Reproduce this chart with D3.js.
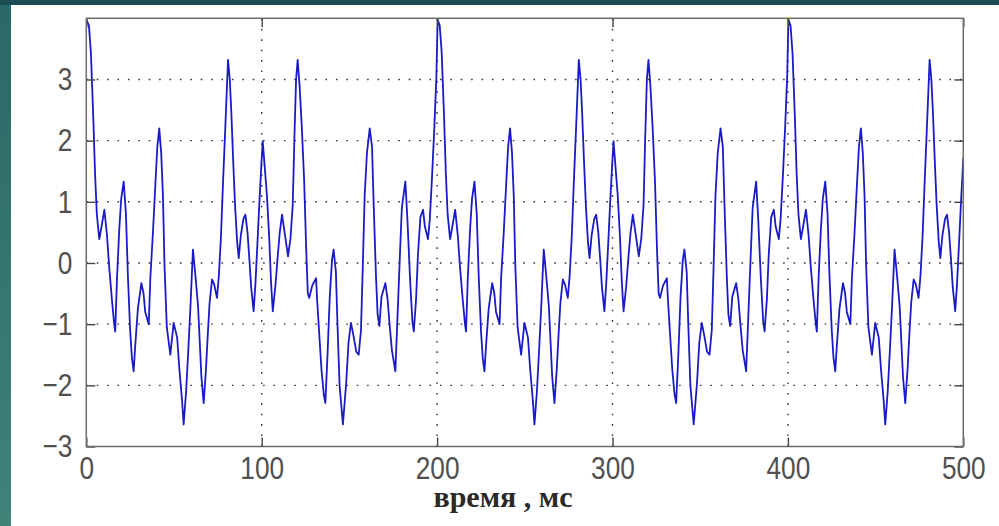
<!DOCTYPE html>
<html>
<head>
<meta charset="utf-8">
<script src="https://cdn.jsdelivr.net/npm/d3@7"></script>
<style>
  html, body { margin: 0; padding: 0; background: #ffffff; }
  svg { display: block; }
</style>
</head>
<body>
<div id="chart"></div>
<script>
// ---- data (time in ms, amplitude) ----
const timeA = [0,1.5,2.6,3.9,5.0,6.0,7.4,8.7,10.3,11.8,
  13.1,14.6,15.9,16.5,17.5,18.8,19.9,21.3,22.6,23.7,
  25.0,26.0,27.0,27.9,29.4,31.4,32.6,33.6,35.6,36.5,
  38.0,39.4,40.5,41.6,42.7,43.7,44.6,45.9,47.9,49.8,
  51.8,53.1,54.6,55.5,56.9,58.1,59.4,60.8,62.2,63.7,
  64.7,65.6,66.9,68.2,69.2,70.3,71.7,72.9,74.5,75.6,
  76.8,78.0,79.3,80.8,81.8,82.7,83.7,84.8,86.0,86.9,
  88.1,89.6,90.7,91.9,93.0,94.0,95.4,96.4,97.7,98.7,
  99.8,100.6,101.5,103.0,104.3,105.3,106.3,107.8,109.1,110.3,
  111.6,113.3,115.0,116.4,117.7,118.6,119.6,120.5,121.6,122.9,
  124.2,125.4,126.3,127.1,128.8,131.0,131.6,133.0,134.1,135.4,
  136.3,137.6,138.8,140.1,141.0,142.3,143.2,144.4,146.3,148.2,
  149.5,150.9,152.4,153.9,155.3,156.6,157.6,158.7,160.0,161.6,
  162.9,163.9,165.2,166.1,167.1,168.3,170.5,171.8,172.9,174.2,
  176.2,177.4,178.9,179.9,181.9,183.1,184.6,185.9,186.7,188.0,
  189.1,190.5,192.0,193.0,194.8,195.8,197.1,198.4,199.6,200.3];
const ampA = [3.98,3.88,3.45,2.45,1.45,0.8,0.39,0.6,0.87,0.45,
  -0.08,-0.6,-1.0,-1.12,-0.25,0.55,1.05,1.33,0.8,-0.2,
  -1.1,-1.55,-1.77,-1.35,-0.75,-0.33,-0.49,-0.8,-1.0,-0.25,
  0.5,1.3,1.9,2.2,1.8,1.1,-0.05,-1.05,-1.5,-0.98,
  -1.22,-1.75,-2.25,-2.64,-2.1,-1.45,-0.7,0.22,-0.2,-0.7,
  -1.3,-1.85,-2.29,-1.75,-1.2,-0.65,-0.27,-0.35,-0.57,-0.2,
  0.45,1.35,2.25,3.32,3.0,2.45,1.7,0.95,0.35,0.08,
  0.45,0.72,0.79,0.5,0.05,-0.4,-0.79,-0.35,0.4,1.0,
  1.6,1.99,1.65,1.1,0.4,-0.3,-0.79,-0.38,0.1,0.5,
  0.79,0.45,0.11,0.4,0.95,2.0,3.0,3.32,2.9,2.2,
  1.35,0.2,-0.5,-0.57,-0.37,-0.25,-0.6,-1.25,-1.75,-2.15,
  -2.29,-1.45,-0.55,0.05,0.22,-0.15,-1.0,-2.0,-2.64,-1.95,
  -1.3,-0.98,-1.2,-1.45,-1.5,-1.1,-0.1,1.1,1.8,2.2,
  1.9,0.9,-0.25,-0.85,-1.03,-0.55,-0.33,-0.6,-1.0,-1.42,
  -1.77,-0.9,0.2,0.9,1.33,0.7,-0.27,-0.95,-1.12,-0.6,
  0.15,0.75,0.87,0.6,0.39,0.7,1.4,2.2,3.05,3.98];

const timeB = [201.5,202.6,203.9,205.0,206.0,207.4,208.7,210.3,211.8,
  213.1,214.6,215.9,216.5,217.5,218.8,219.9,221.3,222.6,223.7,
  225.0,226.0,227.0,227.9,229.4,231.4,232.6,233.6,235.6,236.5,
  238.0,239.4,240.5,241.6,242.7,243.7,244.6,245.9,247.9,249.8,
  251.8,253.1,254.6,255.5,256.9,258.1,259.4,260.8,262.2,263.7,
  264.7,265.6,266.9,268.2,269.2,270.3,271.7,272.9,274.5,275.6,
  276.8,278.0,279.3,280.8,281.8,282.7,283.7,284.8,286.0,286.9,
  288.1,289.6,290.7,291.9,293.0,294.0,295.4,296.4,297.7,298.7,
  299.8,300.6,301.5,303.0,304.3,305.3,306.3,307.8,309.1,310.3,
  311.6,313.3,315.0,316.4,317.7,318.6,319.6,320.5,321.6,322.9,
  324.2,325.4,326.3,327.1,328.8,331.0,331.6,333.0,334.1,335.4,
  336.3,337.6,338.8,340.1,341.0,342.3,343.2,344.4,346.3,348.2,
  349.5,350.9,352.4,353.9,355.3,356.6,357.6,358.7,360.0,361.6,
  362.9,363.9,365.2,366.1,367.1,368.3,370.5,371.8,372.9,374.2,
  376.2,377.4,378.9,379.9,381.9,383.1,384.6,385.9,386.7,388.0,
  389.1,390.5,392.0,393.0,394.8,395.8,397.1,398.4,399.6,400.3];
const ampB = [3.88,3.45,2.45,1.45,0.8,0.39,0.6,0.87,0.45,
  -0.08,-0.6,-1.0,-1.12,-0.25,0.55,1.05,1.33,0.8,-0.2,
  -1.1,-1.55,-1.77,-1.35,-0.75,-0.33,-0.49,-0.8,-1.0,-0.25,
  0.5,1.3,1.9,2.2,1.8,1.1,-0.05,-1.05,-1.5,-0.98,
  -1.22,-1.75,-2.25,-2.64,-2.1,-1.45,-0.7,0.22,-0.2,-0.7,
  -1.3,-1.85,-2.29,-1.75,-1.2,-0.65,-0.27,-0.35,-0.57,-0.2,
  0.45,1.35,2.25,3.32,3.0,2.45,1.7,0.95,0.35,0.08,
  0.45,0.72,0.79,0.5,0.05,-0.4,-0.79,-0.35,0.4,1.0,
  1.6,1.99,1.65,1.1,0.4,-0.3,-0.79,-0.38,0.1,0.5,
  0.79,0.45,0.11,0.4,0.95,2.0,3.0,3.32,2.9,2.2,
  1.35,0.2,-0.5,-0.57,-0.37,-0.25,-0.6,-1.25,-1.75,-2.15,
  -2.29,-1.45,-0.55,0.05,0.22,-0.15,-1.0,-2.0,-2.64,-1.95,
  -1.3,-0.98,-1.2,-1.45,-1.5,-1.1,-0.1,1.1,1.8,2.2,
  1.9,0.9,-0.25,-0.85,-1.03,-0.55,-0.33,-0.6,-1.0,-1.42,
  -1.77,-0.9,0.2,0.9,1.33,0.7,-0.27,-0.95,-1.12,-0.6,
  0.15,0.75,0.87,0.6,0.39,0.7,1.4,2.2,3.05,3.98];

const timeC = [401.5,402.6,403.9,405.0,406.0,407.4,408.7,410.3,411.8,
  413.1,414.6,415.9,416.5,417.5,418.8,419.9,421.3,422.6,423.7,
  425.0,426.0,427.0,427.9,429.4,431.4,432.6,433.6,435.6,436.5,
  438.0,439.4,440.5,441.6,442.7,443.7,444.6,445.9,447.9,449.8,
  451.8,453.1,454.6,455.5,456.9,458.1,459.4,460.8,462.2,463.7,
  464.7,465.6,466.9,468.2,469.2,470.3,471.7,472.9,474.5,475.6,
  476.8,478.0,479.3,480.8,481.8,482.7,483.7,484.8,486.0,486.9,
  488.1,489.6,490.7,491.9,493.0,494.0,495.4,496.4,497.7,498.7,
  499.8,500];
const ampC = [3.88,3.45,2.45,1.45,0.8,0.39,0.6,0.87,0.45,
  -0.08,-0.6,-1.0,-1.12,-0.25,0.55,1.05,1.33,0.8,-0.2,
  -1.1,-1.55,-1.77,-1.35,-0.75,-0.33,-0.49,-0.8,-1.0,-0.25,
  0.5,1.3,1.9,2.2,1.8,1.1,-0.05,-1.05,-1.5,-0.98,
  -1.22,-1.75,-2.25,-2.64,-2.1,-1.45,-0.7,0.22,-0.2,-0.7,
  -1.3,-1.85,-2.29,-1.75,-1.2,-0.65,-0.27,-0.35,-0.57,-0.2,
  0.45,1.35,2.25,3.32,3.0,2.45,1.7,0.95,0.35,0.08,
  0.45,0.72,0.79,0.5,0.05,-0.4,-0.79,-0.35,0.4,1.0,
  1.6,1.72];

const xTicks = [0, 100, 200, 300, 400, 500];
const yTicks = [-3, -2, -1, 0, 1, 2, 3];
const xGrid = [100, 200, 300, 400];
const yGrid = [-2, -1, 0, 1, 2, 3];
const xLabel = "время , мс";

// ---- build ----
const W = 999, H = 526;
const svg = d3.select("#chart").append("svg").attr("width", W).attr("height", H);

const defs = svg.append("defs");
const grad = defs.append("linearGradient").attr("id", "tealGrad")
  .attr("x1", 0).attr("y1", 0).attr("x2", 0).attr("y2", 1);
grad.append("stop").attr("offset", "0%").attr("stop-color", "#2b6766");
grad.append("stop").attr("offset", "100%").attr("stop-color", "#3f8379");

svg.append("rect").attr("x", 0).attr("y", 0).attr("width", W).attr("height", H).attr("fill", "url(#tealGrad)");
svg.append("rect").attr("x", 0).attr("y", 0).attr("width", W).attr("height", 5).attr("fill", "#1e4c54");
svg.append("rect").attr("x", 11).attr("y", 5).attr("width", W - 11).attr("height", H - 5).attr("fill", "#ffffff");

const x = d3.scaleLinear().domain([0, 500]).range([86.3, 963.3]);
const y = d3.scaleLinear().domain([-3, 4]).range([446.5, 18.3]);
const [x0, x1] = x.range();
const [yb, yt] = y.range();

defs.append("clipPath").attr("id", "plotClip").append("rect")
  .attr("x", x0).attr("y", yt).attr("width", x1 - x0).attr("height", yb - yt);

// grid
const grid = svg.append("g").attr("stroke", "#333").attr("stroke-width", 1.4)
  .attr("stroke-dasharray", "1.6,8.8");
grid.selectAll("line.gx").data(xGrid).join("line").attr("class", "gx")
  .attr("x1", d => x(d)).attr("x2", d => x(d)).attr("y1", yb).attr("y2", yt);
grid.selectAll("line.gy").data(yGrid).join("line").attr("class", "gy")
  .attr("y1", d => y(d)).attr("y2", d => y(d)).attr("x1", x0).attr("x2", x1);

// data series
const series = timeA.concat(timeB, timeC).map((t, i) => ({ t, v: ampA.concat(ampB, ampC)[i] }));
const line = d3.line().x(d => x(d.t)).y(d => y(d.v));
svg.append("path").datum(series)
  .attr("clip-path", "url(#plotClip)")
  .attr("fill", "none").attr("stroke", "#1a1ac8").attr("stroke-width", 1.8)
  .attr("stroke-linejoin", "round")
  .attr("d", line);

// axes
const tickLen = 9;
const fontFam = "'Liberation Sans', Arial, sans-serif";
function styleAxis(g) {
  g.select(".domain").remove();
  g.selectAll(".tick line").attr("stroke", "#444").attr("stroke-width", 1.4);
}

const gBottom = svg.append("g").attr("transform", `translate(0,${yb})`)
  .call(d3.axisBottom(x).tickValues(xTicks).tickSizeInner(-tickLen).tickSizeOuter(0).tickPadding(10).tickFormat(d3.format("d")));
styleAxis(gBottom);
gBottom.selectAll(".tick text")
  .attr("font-family", fontFam).attr("font-size", 32).attr("fill", "#505050")
  .attr("transform", "scale(0.82,1)");

const gTop = svg.append("g").attr("transform", `translate(0,${yt})`)
  .call(d3.axisTop(x).tickValues(xTicks).tickSizeInner(-tickLen).tickSizeOuter(0).tickFormat(""));
styleAxis(gTop);

const gLeft = svg.append("g").attr("transform", `translate(${x0},0)`)
  .call(d3.axisLeft(y).tickValues(yTicks).tickSizeInner(-tickLen).tickSizeOuter(0).tickPadding(0)
    .tickFormat(d => d < 0 ? "\u2212" + Math.abs(d) : String(d)));
styleAxis(gLeft);
gLeft.selectAll(".tick text")
  .attr("x", 0)
  .attr("font-family", fontFam).attr("font-size", 32).attr("fill", "#505050")
  .attr("transform", "translate(-14,0) scale(0.82,1)");

const gRight = svg.append("g").attr("transform", `translate(${x1},0)`)
  .call(d3.axisRight(y).tickValues(yTicks).tickSizeInner(-tickLen).tickSizeOuter(0).tickFormat(""));
styleAxis(gRight);

// frame
svg.append("rect").attr("x", x0).attr("y", yt).attr("width", x1 - x0).attr("height", yb - yt)
  .attr("fill", "none").attr("stroke", "#6a6a6a").attr("stroke-width", 1.5);

// x label
svg.append("text").attr("x", 503).attr("y", 507).attr("text-anchor", "middle")
  .attr("font-family", "'Liberation Serif', 'Times New Roman', serif")
  .attr("font-weight", "bold").attr("font-size", 30).attr("fill", "#2a2a2a")
  .text(xLabel);
</script>
</body>
</html>
